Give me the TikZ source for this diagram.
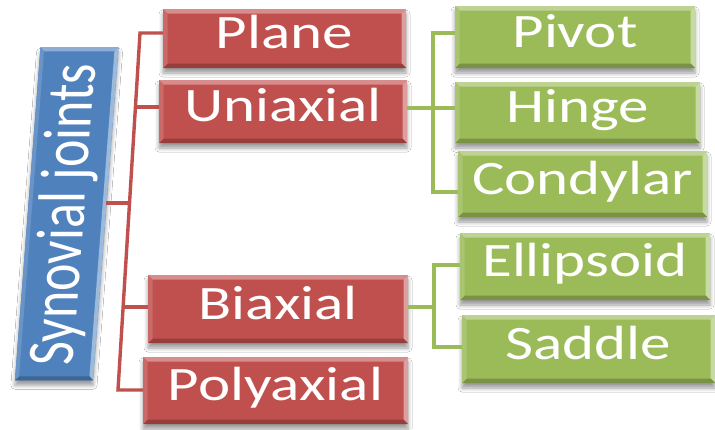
\documentclass[tikz,border=0pt]{standalone}
\usepackage{fontspec}
\setmainfont{Carlito}
\usetikzlibrary{shadows.blur,calc}
\pgfdeclarelayer{background}
\pgfsetlayers{background,main}

\definecolor{boxred}{RGB}{192,80,77}
\definecolor{boxgreen}{RGB}{155,187,89}
\definecolor{boxblue}{RGB}{79,129,189}

% horizontally widened label text
\newcommand\wide[1]{\scalebox{1.27}[1]{#1}}

\tikzset{
  label text/.style={inner sep=0pt, outer sep=0pt, text=white,
    font=\fontsize{48}{48}\selectfont, text height=32pt, text depth=12pt},
  inset/.style={inner sep=0pt, outer sep=0pt},
  % upright bar, leaning to the right and widened
  leaning bar/.style={inset, xscale=1.28, xslant=0.06, rotate=90},
  soft shadow/.style={blur shadow={shadow xshift=0pt, shadow yshift=-5pt,
    shadow blur radius=4pt, shadow opacity=40}},
  redline/.style={draw=boxred, line width=3.4pt, line join=miter},
  greenline/.style={draw=boxgreen, line width=3.2pt, line join=miter},
}

% bevelled box: name, centre, width, height, colour, text
\newcommand\bevelbox[6]{%
  \node[label text, minimum width=#3, minimum height=#4] (#1) at #2 {\wide{#6}};
  \node[inset, minimum width=#3-9pt, minimum height=#4-9pt] (#1-in) at (#1.center) {};
  \begin{pgfonlayer}{background}
    \fill[#5, soft shadow] (#1.north west) rectangle (#1.south east);
    \fill[#5!65!white] (#1.north west) -- (#1.north east) -- (#1-in.north east) -- (#1-in.north west) -- cycle;
    \fill[#5!55!white] (#1.north east) -- (#1.south east) -- (#1-in.south east) -- (#1-in.north east) -- cycle;
    \fill[#5!78!black] (#1.south east) -- (#1.south west) -- (#1-in.south west) -- (#1-in.south east) -- cycle;
    \fill[#5!85!white] (#1.south west) -- (#1.north west) -- (#1-in.north west) -- (#1-in.south west) -- cycle;
  \end{pgfonlayer}
}

\begin{document}
\begin{tikzpicture}[x=1pt, y=-1pt]
\useasboundingbox (0,0) rectangle (715,429);
\begin{pgfonlayer}{background}
  \fill[white] (0,0) rectangle (715,429);
\end{pgfonlayer}

% root: leaning blue bar
\node[leaning bar, minimum width=333pt, minimum height=61pt] (syn) at (66.75,213.75) {};
\node[leaning bar, minimum width=325pt, minimum height=55pt] (syn-in) at (syn.center) {};
\node[leaning bar, text=white, font=\fontsize{52}{52}\selectfont] (syn-t) at ([yshift=-1pt]syn.center) {Synovial joints};
\begin{pgfonlayer}{background}
  \fill[boxblue, soft shadow] (syn.north west) -- (syn.north east) -- (syn.south east) -- (syn.south west) -- cycle;
  \fill[boxblue!65!white] (syn.north east) -- (syn.south east) -- (syn-in.south east) -- (syn-in.north east) -- cycle;
  \fill[boxblue!55!white] (syn.south east) -- (syn.south west) -- (syn-in.south west) -- (syn-in.south east) -- cycle;
  \fill[boxblue!78!black] (syn.south west) -- (syn.north west) -- (syn-in.north west) -- (syn-in.south west) -- cycle;
  \fill[boxblue!85!white] (syn.north west) -- (syn.north east) -- (syn-in.north east) -- (syn-in.north west) -- cycle;
\end{pgfonlayer}

% first level
\bevelbox{plane}{(284.5,38.5)}{243pt}{59pt}{boxred}{Plane}
\bevelbox{uni}{(283,111.5)}{248pt}{63pt}{boxred}{Uniaxial}
\bevelbox{bi}{(278,309)}{260pt}{68pt}{boxred}{Biaxial}
\bevelbox{poly}{(275.5,390.5)}{265pt}{67pt}{boxred}{Polyaxial}

% second level
\bevelbox{pivot}{(575,37)}{240pt}{62pt}{boxgreen}{Pivot}
\bevelbox{hinge}{(577.5,112.5)}{245pt}{61pt}{boxgreen}{Hinge}
\bevelbox{cond}{(582.5,184)}{249pt}{66pt}{boxgreen}{Condylar}
\bevelbox{ell}{(585,266.5)}{250pt}{67pt}{boxgreen}{Ellipsoid}
\bevelbox{sad}{(588.5,349)}{253pt}{68pt}{boxgreen}{Saddle}

% red bracket (slightly slanted spine)
\coordinate (r1) at (140,33);
\coordinate (r2) at (135.4,107);
\coordinate (r0) at (129.5,203);
\coordinate (r3) at (123.1,307);
\coordinate (r4) at (118,390);
\draw[redline] (plane.west |- r1) -- (r1) -- (r4) -- (poly.west |- r4);
\draw[redline] (r2) -- (uni.west |- r2);
\draw[redline] (r3) -- (bi.west |- r3);
\draw[redline] (syn.south |- r0) -- (r0);

% green bracket for uniaxial
\coordinate (g1) at (433,33);
\coordinate (g2) at (433,108);
\coordinate (g3) at (433,192);
\draw[greenline] (pivot.west |- g1) -- (g1) -- (g3) -- (cond.west |- g3);
\draw[greenline] (uni.east |- g2) -- (hinge.west |- g2);

% green bracket for biaxial
\coordinate (h1) at (434,265);
\coordinate (h0) at (434,307);
\coordinate (h2) at (434,347);
\draw[greenline] (ell.west |- h1) -- (h1) -- (h2) -- (sad.west |- h2);
\draw[greenline] (bi.east |- h0) -- (h0);
\end{tikzpicture}
\end{document}
